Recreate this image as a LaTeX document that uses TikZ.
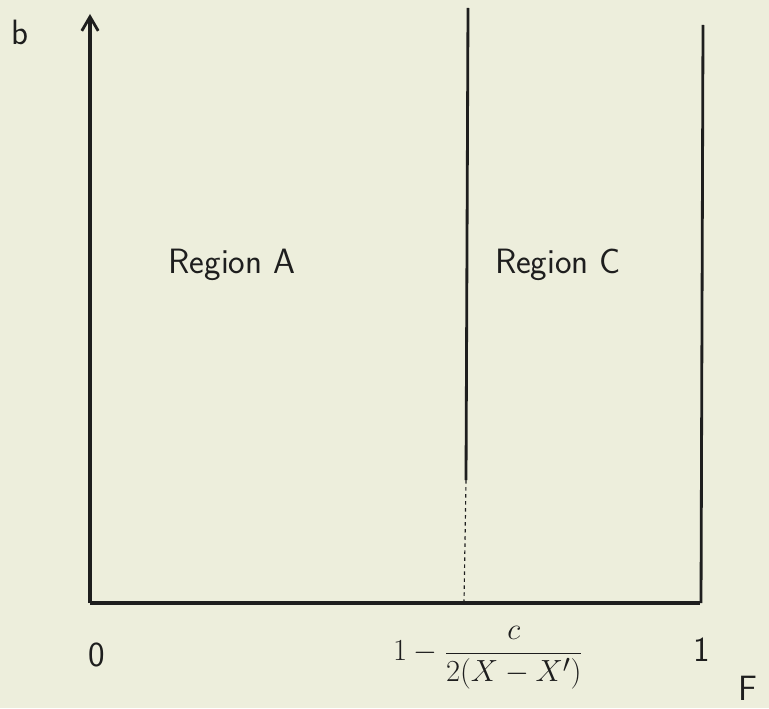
\documentclass[tikz,border=0pt]{standalone}
\usepackage{tikz}
\usetikzlibrary{arrows.meta,positioning}
\definecolor{paper}{HTML}{EDEEDC}
\definecolor{ink}{HTML}{1E1E1E}

\begin{document}
\begin{tikzpicture}[
  x=0.03cm, y=-0.03cm,
  axis/.style={ink, line width=2.6pt},
  bound/.style={ink, line width=2.4pt},
  weak/.style={ink, line width=1pt, dashed},
  arr/.style={-{Straight Barb[length=12pt, width=14pt, line width=2.4pt]}},
  lbl/.style={font=\fontsize{30}{34}\selectfont\sffamily, text=ink},
]
% --- Paper ---
\fill[paper] (0,0) rectangle (769,708);
\useasboundingbox (0,0) rectangle (769,708);

% --- Axes ---
\coordinate (origin) at (90,603);
\coordinate (ytip) at (90,14);
\coordinate (xend) at (700,603);
\draw[axis, arr] (origin) -- (ytip);
\draw[axis] (origin) -- (xend);

% --- Boundaries ---
\coordinate (midtop) at (468,8);
\coordinate (midlow) at (466,480);
\coordinate (midbot) at (464,603);
\coordinate (righttop) at (703,25);
\coordinate (rightbot) at (701,603);
\draw[bound] (midtop) -- (midlow);
\draw[weak] (midlow) -- (midbot);
\draw[bound] (righttop) -- (rightbot);

% --- Labels ---
\node[lbl] (blab) at (20,32) {b};
\node[lbl] (Flab) at (748,688) {F};
\node[lbl] (zero) at (97,655) {0};
\node[lbl] (one) at (702,650) {1};
\node[lbl] (regA) at (232,265) {Region A};
\node[lbl] (regC) at (558,265) {Region C};
\node[lbl, scale=1.05] (split) at (488,658) {$1-\displaystyle\frac{c}{2(X-X')}$};
\end{tikzpicture}
\end{document}
